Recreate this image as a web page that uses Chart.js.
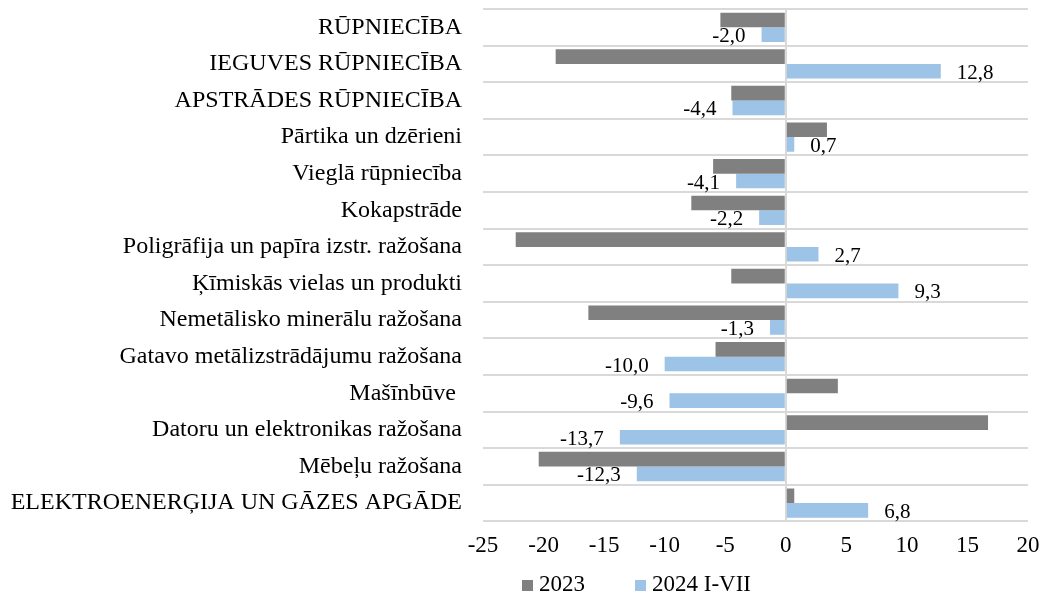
<!DOCTYPE html>
<html>
<head>
<meta charset="utf-8">
<script src="https://cdn.jsdelivr.net/npm/chart.js@4.4.1/dist/chart.umd.min.js"></script>
<style>
  html, body { margin: 0; padding: 0; background: #ffffff; }
  #wrap { width: 1046px; height: 596px; position: relative; }
</style>
</head>
<body>
<div id="wrap"><canvas id="c" width="1046" height="596"></canvas></div>
<script>
const categories = [
  "RŪPNIECĪBA",
  "IEGUVES RŪPNIECĪBA",
  "APSTRĀDES RŪPNIECĪBA",
  "Pārtika un dzērieni",
  "Vieglā rūpniecība",
  "Kokapstrāde",
  "Poligrāfija un papīra izstr. ražošana",
  "Ķīmiskās vielas un produkti",
  "Nemetālisko minerālu ražošana",
  "Gatavo metālizstrādājumu ražošana",
  "Mašīnbūve ",
  "Datoru un elektronikas ražošana",
  "Mēbeļu ražošana",
  "ELEKTROENERĢIJA UN GĀZES APGĀDE"
];
const seriesNames = ["2023", "2024 I-VII"];
const values2023 = [-5.4, -19.0, -4.5, 3.4, -6.0, -7.8, -22.3, -4.5, -16.3, -5.8, 4.3, 16.7, -20.4, 0.7];
const values2024 = [-2.0, 12.8, -4.4, 0.7, -4.1, -2.2, 2.7, 9.3, -1.3, -10.0, -9.6, -13.7, -12.3, 6.8];
const xMin = -25, xMax = 20, xStep = 5;

const FONT = '"Liberation Serif", "Times New Roman", serif';
const colors = ["#808080", "#9dc3e6"];

const valueLabels = {
  id: 'valueLabels',
  afterDatasetsDraw(chart) {
    const ctx = chart.ctx;
    const meta = chart.getDatasetMeta(1);
    ctx.save();
    ctx.font = '21px ' + FONT;
    ctx.fillStyle = '#000000';
    ctx.textBaseline = 'middle';
    meta.data.forEach((bar, i) => {
      const v = values2024[i];
      const txt = v.toFixed(1).replace('.', ',');
      if (v < 0) {
        ctx.textAlign = 'right';
        ctx.fillText(txt, bar.x - 16, bar.y + 2);
      } else {
        ctx.textAlign = 'left';
        ctx.fillText(txt, bar.x + 16, bar.y + 2);
      }
    });
    ctx.restore();
  }
};

const customLegend = {
  id: 'customLegend',
  afterDraw(chart) {
    const ctx = chart.ctx;
    const y = 585;
    let x = 522;
    ctx.save();
    ctx.font = '23px ' + FONT;
    ctx.textBaseline = 'middle';
    ctx.textAlign = 'left';
    seriesNames.forEach((name, i) => {
      ctx.fillStyle = colors[i];
      ctx.fillRect(x, y - 5, 11, 11);
      ctx.fillStyle = '#000000';
      ctx.fillText(name, x + 17, y);
      x += 17 + ctx.measureText(name).width + 50;
    });
    ctx.restore();
  }
};

new Chart(document.getElementById('c'), {
  type: 'bar',
  data: {
    labels: categories,
    datasets: [
      { label: seriesNames[0], data: values2023, backgroundColor: colors[0], borderWidth: 0 },
      { label: seriesNames[1], data: values2024, backgroundColor: colors[1], borderWidth: 0 }
    ]
  },
  options: {
    indexAxis: 'y',
    responsive: false,
    animation: false,
    devicePixelRatio: 1,
    layout: { padding: { top: 9, right: 18, bottom: 25, left: 0 } },
    datasets: { bar: { categoryPercentage: 0.8, barPercentage: 1.0 } },
    plugins: {
      legend: { display: false },
      tooltip: { enabled: false }
    },
    scales: {
      x: {
        min: xMin, max: xMax,
        ticks: { stepSize: xStep, color: '#000000', font: { family: FONT, size: 23 }, padding: 11, maxRotation: 0 },
        grid: {
          drawTicks: false,
          lineWidth: 2,
          color: (c) => (c.tick && c.tick.value === 0) ? '#d9d9d9' : 'rgba(0,0,0,0)'
        },
        border: { display: false },
        afterFit(scale) { scale.paddingLeft = 0; scale.paddingRight = 0; }
      },
      y: {
        ticks: { color: '#000000', font: { family: FONT, size: 24 }, padding: 21, autoSkip: false },
        grid: { drawTicks: false, lineWidth: 2, color: '#d9d9d9', offset: true },
        border: { display: false },
        afterFit(scale) { scale.width = 483; scale.paddingTop = 0; scale.paddingBottom = 0; }
      }
    }
  },
  plugins: [valueLabels, customLegend]
});
</script>
</body>
</html>
